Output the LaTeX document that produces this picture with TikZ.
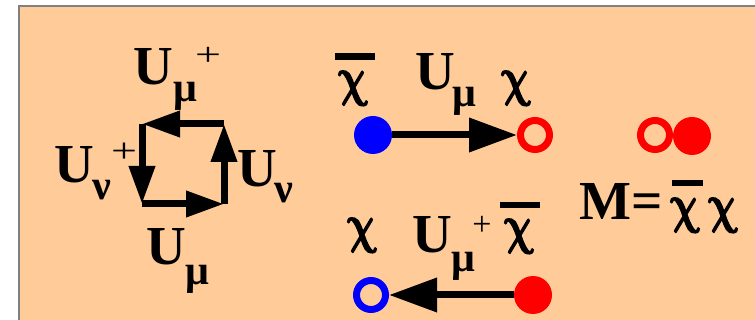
\documentclass[tikz,border=0pt]{standalone}
\usepackage{fontspec}
\usepackage{amsmath}
\setmainfont{Liberation Serif}
\usetikzlibrary{arrows.meta}
\definecolor{peach}{HTML}{FFCC99}
\definecolor{framegray}{HTML}{808080}
\definecolor{myred}{HTML}{FF0000}
\definecolor{myblue}{HTML}{0000FF}
\newcommand{\bchi}{\scalebox{1.6}[2.15]{\special{pdf:literal direct 2 Tr 0.7 w}$\boldsymbol{\chi}$\special{pdf:literal direct 0 Tr}}}
\begin{document}
\begin{tikzpicture}[x=1pt,y=-1pt,
  big/.style={inner sep=0pt, anchor=base, font=\fontsize{55}{55}\selectfont\bfseries},
  chisym/.style={inner sep=0pt, anchor=base, font=\fontsize{24.88}{25}\selectfont, xslant=-0.15, transform shape},
  subs/.style={inner sep=0pt, anchor=base, font=\fontsize{42}{42}\selectfont\bfseries},
  plussign/.style={inner sep=0pt, font=\fontsize{46}{46}\selectfont},
  sqarrow/.style={line width=7pt, -{Triangle[length=38pt,width=25pt]}},
  linkarrow/.style={line width=7pt, -{Triangle[length=48pt,width=33pt]}},
  dotnode/.style={circle, inner sep=0pt, outer sep=0pt, minimum size=38pt},
  ringnode/.style={circle, draw, line width=7pt, inner sep=0pt, outer sep=3.5pt, minimum size=29pt},
  barline/.style={fill=black}
]
\useasboundingbox (0,0) rectangle (755,320);
\fill[white] (0,0) rectangle (755,320);
\filldraw[fill=peach, draw=framegray, line width=2pt] (19,6) rectangle (770,335);

% plaquette
\coordinate (tl) at (142,124);
\coordinate (tr) at (224,124);
\coordinate (bl) at (142,204);
\coordinate (br) at (224,204);
\draw[sqarrow] (tr) -- (tl);
\draw[sqarrow] (tl) -- (bl);
\draw[sqarrow] (bl) -- (br);
\draw[sqarrow] (br) -- (tr);

\node[big] (tU) at (153,85) {U};
\node[subs] (tmu) at (185,102) {μ};
\node[plussign] (tplus) at (208,56) {\scalebox{1}[0.7]{+}};

\node[big] (lU) at (74,183) {U};
\node[subs] (lnu) at (102,200) {ν};
\node[plussign] (lplus) at (124,153) {\scalebox{1}[0.75]{+}};

\node[big] (rU) at (257,187) {U};
\node[subs] (rnu) at (284,203) {ν};

\node[big] (bU) at (166,265) {U};
\node[subs] (bmu) at (197,285) {μ};

% upper link
\node[dotnode, fill=myblue] (b1) at (373,135) {};
\node[ringnode, draw=myred] (r1) at (535,135) {};
\draw[linkarrow] (b1) -- (r1);
\node[chisym] (chibar1) at (354,95) {\bchi};
\fill[barline] (335,53) rectangle (375,60);
\node[big] (U1) at (435,90) {U};
\node[subs] (mu1) at (464,107) {μ};
\node[chisym] (chi1) at (517,95) {\bchi};

% lower link
\node[ringnode, draw=myblue] (r2) at (371,295) {};
\node[dotnode, fill=myred] (b2) at (533,295) {};
\draw[linkarrow] (b2) -- (r2);
\node[chisym] (chi2) at (363,242) {\bchi};
\node[big] (U2) at (432,253) {U};
\node[subs] (mu2) at (463,272) {μ};
\node[plussign, font=\fontsize{34}{34}\selectfont] (plus2) at (482,226) {+};
\node[chisym] (chibar2) at (520,243) {\bchi};
\fill[barline] (500,202) rectangle (540,208);

% meson
\node[ringnode, draw=myred] (r3) at (655,135) {};
\node[dotnode, fill=myred] (b3) at (692,136) {};
\node[big, anchor=base west] (M) at (579,220) {M=};
\node[chisym] (chibar3) at (686,222) {\bchi};
\fill[barline] (672,180) rectangle (703,186);
\node[chisym] (chi3) at (724,222) {\bchi};
\end{tikzpicture}
\end{document}
